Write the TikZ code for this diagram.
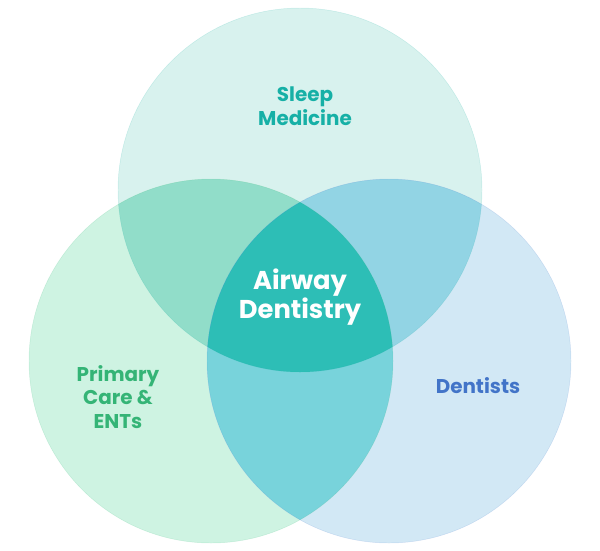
\documentclass[tikz,border=0pt]{standalone}
\usepackage{fontspec}
\setmainfont{Poppins}
\usepackage{xcolor}
\definecolor{sleepfill}{RGB}{216, 242, 238}
\definecolor{carefill}{RGB}{206, 243, 226}
\definecolor{dentfill}{RGB}{210, 232, 245}
\definecolor{sleepcare}{RGB}{145, 221, 201}
\definecolor{sleepdent}{RGB}{146, 212, 228}
\definecolor{caredent}{RGB}{120, 211, 219}
\definecolor{airwayfill}{RGB}{45, 190, 182}
\definecolor{sleeptext}{RGB}{22, 176, 166}
\definecolor{caretext}{RGB}{52, 180, 118}
\definecolor{denttext}{RGB}{66, 116, 200}

\begin{document}
\begin{tikzpicture}[x=0.03cm, y=-0.03cm,
    rim/.style={draw=#1, line width=0.4pt, draw opacity=0.18},
    label/.style={font=\bfseries\fontsize{17}{20}\selectfont, align=center}]
        \useasboundingbox (0,0) rectangle (600,550);
        \def\rad{182}

        % circle centres
        \coordinate (sleep) at (300,190);
        \coordinate (care) at (211,361);
        \coordinate (dent) at (389,361);

        % single fields
        \fill[sleepfill] (sleep) circle (\rad);
        \fill[carefill] (care) circle (\rad);
        \fill[dentfill] (dent) circle (\rad);

        % pairwise overlaps
        \begin{scope}
            \clip (sleep) circle (\rad);
            \fill[sleepcare] (care) circle (\rad);
            \fill[sleepdent] (dent) circle (\rad);
        \end{scope}
        \begin{scope}
            \clip (care) circle (\rad);
            \fill[caredent] (dent) circle (\rad);
        \end{scope}

        % common core
        \begin{scope}
            \clip (sleep) circle (\rad);
            \clip (care) circle (\rad);
            \fill[airwayfill] (dent) circle (\rad);
        \end{scope}

        % soft rims
        \path[rim=sleeptext] (sleep) circle (\rad);
        \path[rim=caretext] (care) circle (\rad);
        \path[rim=denttext] (dent) circle (\rad);

        % labels
        \node[label, text=sleeptext] (sleeplabel) at (305,106) {Sleep\\Medicine};
        \node[label, text=caretext] (carelabel) at (118,397) {Primary\\Care \&\\ENTs};
        \node[label, text=denttext] (dentlabel) at (478,386) {Dentists};
        \node[label, text=white, font=\bfseries\fontsize{22}{23}\selectfont] (airwaylabel) at (300,297) {Airway\\Dentistry};
    \end{tikzpicture}
\end{document}
